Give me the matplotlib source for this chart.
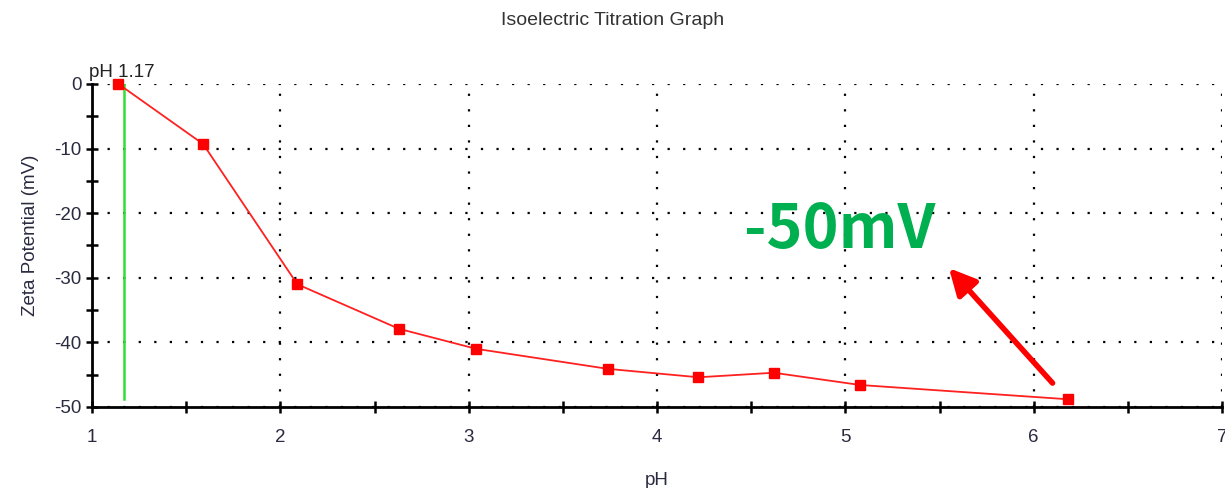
import matplotlib
matplotlib.use("Agg")
from matplotlib import pyplot as plt
from matplotlib.ticker import MultipleLocator

# values
ph = [1.14, 1.59, 2.09, 2.63, 3.04, 3.74, 4.22, 4.62, 5.08, 6.18]
zeta = [0, -9.3, -31.0, -37.9, -41.0, -44.1, -45.4, -44.7, -46.6, -48.8]
iep = 1.17

plt.rcParams['font.family'] = ['Liberation Sans', 'DejaVu Sans']
plt.rcParams['axes.unicode_minus'] = False
txt = '#2a2a40'

fig = plt.figure(figsize=(12.25, 4.88), dpi=100)
ax = fig.add_axes([0.0751, 0.166, 0.9225, 0.662])

ax.plot(ph, zeta, color='#ff2020', lw=1.3, marker='s', ms=7,
        markerfacecolor='#ff0000', markeredgecolor='#ff0000', zorder=4, clip_on=False)
ax.plot([iep, iep], [0, -48.7], color='#33dd33', lw=1.8, zorder=3)
ax.text(0.985, 0.5, f'pH {iep}', fontsize=13.5, color='#222222', va='bottom', ha='left')

ax.set_xlim(1, 7)
ax.set_ylim(-50, 0)
ax.xaxis.set_major_locator(MultipleLocator(1))
ax.xaxis.set_minor_locator(MultipleLocator(0.5))
ax.yaxis.set_major_locator(MultipleLocator(10))
ax.yaxis.set_minor_locator(MultipleLocator(5))
ax.tick_params(which='both', direction='inout', length=9, width=1.8, colors='black',
               labelcolor=txt, labelsize=13.5)
ax.tick_params(axis='x', pad=11)
ax.tick_params(axis='y', pad=3)
ax.grid(which='major', color='black', linestyle=(0, (1, 6)), lw=1.6)
for s in ['top', 'right']:
    ax.spines[s].set_visible(False)
for s in ['left', 'bottom']:
    ax.spines[s].set_linewidth(2)
ax.set_xlabel('pH', fontsize=13.5, color=txt, labelpad=19)
ax.set_ylabel('Zeta Potential (mV)', fontsize=13.5, color=txt)
ax.yaxis.set_label_coords(-0.047, 0.53)
fig.suptitle('Isoelectric Titration Graph', fontsize=14, color='#333333', y=0.975)

ax.text(4.97, -22.6, '-50mV', fontsize=44, fontweight='bold', color='#00b050',
        family=['Noto Sans CJK KR', 'DejaVu Sans'], ha='center', va='center')
ax.annotate('', xy=(5.55, -28.5), xytext=(6.10, -46.3),
            arrowprops=dict(arrowstyle='-|>,head_length=1.6,head_width=0.8',
                            color='#ff0000', lw=4, shrinkA=0, shrinkB=0))

fig.savefig('out.png', dpi=100)
